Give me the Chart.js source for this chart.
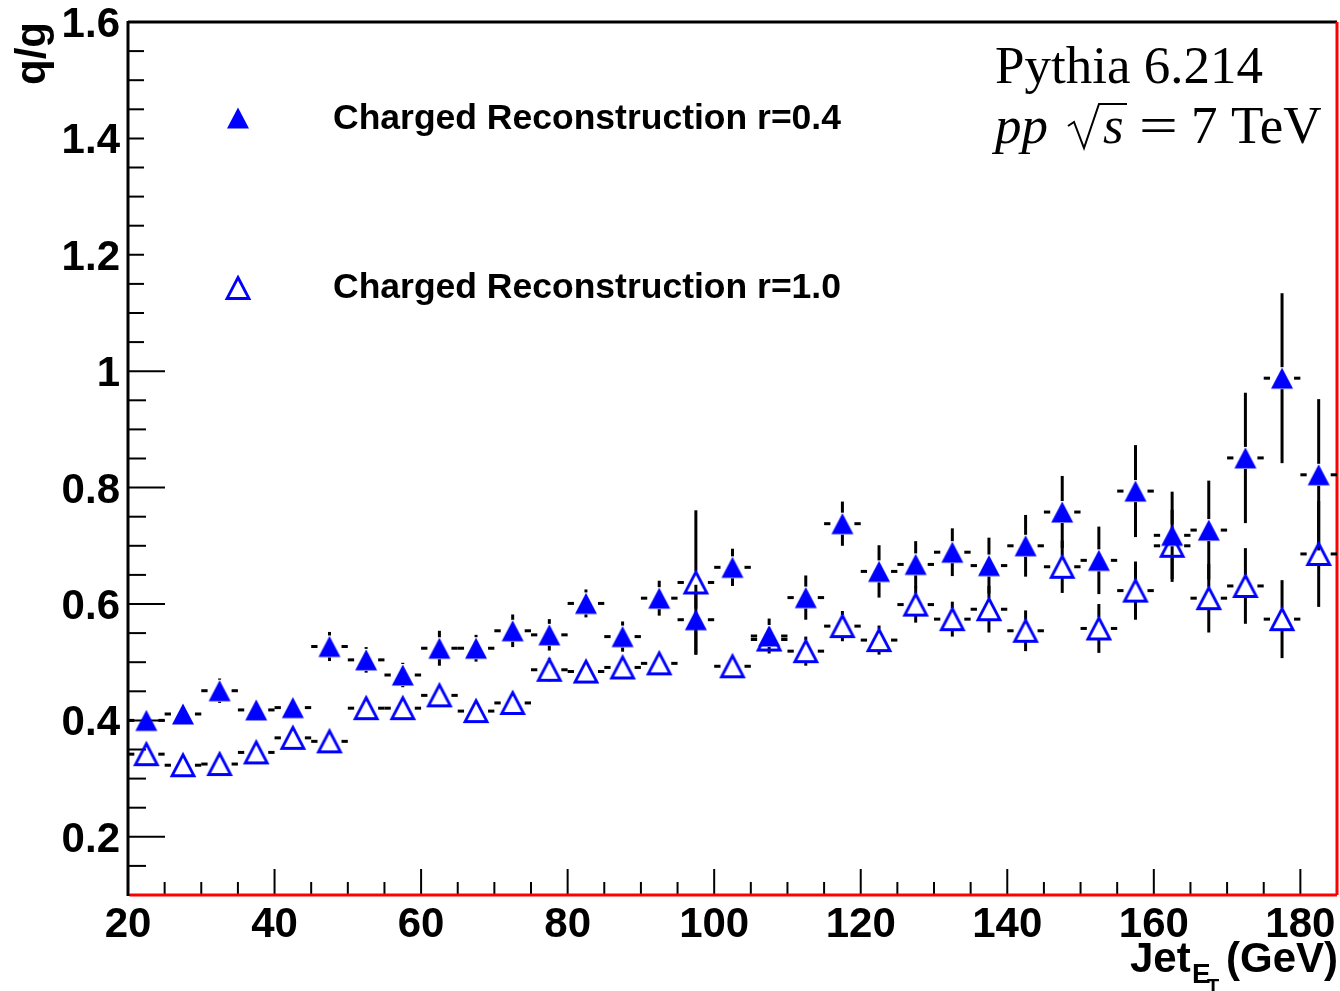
<!DOCTYPE html>
<html>
<head>
<meta charset="utf-8">
<title>q/g ratio vs jet ET</title>
<script src="https://cdn.jsdelivr.net/npm/chart.js@4.4.1/dist/chart.umd.min.js"></script>
<style>
  html, body { margin: 0; padding: 0; background: #fff; }
  canvas { display: block; }
</style>
</head>
<body>
<canvas id="qg-chart" width="1340" height="991"></canvas>
<script>
// bin centres of the 5 GeV jet ET bins
const binCentres = [22.5, 27.5, 32.5, 37.5, 42.5, 47.5, 52.5, 57.5, 62.5, 67.5, 72.5,
  77.5, 82.5, 87.5, 92.5, 97.5, 102.5, 107.5, 112.5, 117.5, 122.5, 127.5, 132.5,
  137.5, 142.5, 147.5, 152.5, 157.5, 162.5, 167.5, 172.5, 177.5, 182.5];
const binHalfWidth = 2.5;

// charged reconstruction r=0.4 (filled triangles)
const ratioR04 = [0.400, 0.411, 0.451, 0.418, 0.422, 0.527, 0.504, 0.478, 0.524, 0.524, 0.554,
  0.547, 0.601, 0.544, 0.610, 0.573, 0.663, 0.545, 0.611, 0.738, 0.656, 0.668, 0.689,
  0.666, 0.700, 0.758, 0.675, 0.794, 0.718, 0.727, 0.851, 0.988, 0.822];
const errR04 = [0.010, 0.010, 0.021, 0.012, 0.012, 0.025, 0.022, 0.021, 0.030, 0.023, 0.028,
  0.027, 0.024, 0.026, 0.030, 0.060, 0.032, 0.030, 0.038, 0.038, 0.045, 0.040, 0.041,
  0.048, 0.053, 0.062, 0.058, 0.079, 0.075, 0.085, 0.112, 0.146, 0.130];

// charged reconstruction r=1.0 (open triangles)
const ratioR10 = [0.342, 0.323, 0.325, 0.345, 0.370, 0.364, 0.421, 0.421, 0.443, 0.416, 0.430,
  0.487, 0.484, 0.491, 0.498, 0.637, 0.493, 0.539, 0.519, 0.562, 0.538, 0.599, 0.574,
  0.591, 0.554, 0.664, 0.558, 0.623, 0.700, 0.610, 0.631, 0.574, 0.686];
const errR10 = [0.008, 0.008, 0.008, 0.009, 0.010, 0.010, 0.011, 0.012, 0.013, 0.013, 0.014,
  0.020, 0.017, 0.018, 0.016, 0.124, 0.015, 0.020, 0.025, 0.026, 0.025, 0.031, 0.030,
  0.040, 0.035, 0.045, 0.042, 0.050, 0.062, 0.059, 0.065, 0.067, 0.091];

const xTickLabels = [20, 40, 60, 80, 100, 120, 140, 160, 180];
const yTickLabels = ['0.2', '0.4', '0.6', '0.8', '1', '1.2', '1.4', '1.6'];
const legendLabels = ['Charged Reconstruction r=0.4', 'Charged Reconstruction r=1.0'];

const BLUE = '#0000ff';
const SANS = '"Liberation Sans", Arial, Helvetica, sans-serif';
const SERIF = '"Liberation Serif", "Times New Roman", serif';

/**
 * ROOT-like triangle marker, centred on its bounding box.
 */
function makeTriangle(filled) {
  const size = 30;
  const c = document.createElement('canvas');
  c.width = size;
  c.height = size;
  const g = c.getContext('2d');
  const m = size / 2;
  g.beginPath();
  g.moveTo(m, m - 10.5);
  g.lineTo(m + 11, m + 10.5);
  g.lineTo(m - 11, m + 10.5);
  g.closePath();
  if (filled) {
    g.fillStyle = BLUE;
    g.fill();
  } else {
    g.lineWidth = 2.8;
    g.strokeStyle = BLUE;
    g.stroke();
  }
  return c;
}

const fullTriangle = makeTriangle(true);
const openTriangle = makeTriangle(false);

function line(ctx, x1, y1, x2, y2) {
  ctx.beginPath();
  ctx.moveTo(x1, y1);
  ctx.lineTo(x2, y2);
  ctx.stroke();
}

function drawErrors(ctx, xs, ys, values, errors) {
  const gapV = 11;
  const gapH = 12;
  ctx.strokeStyle = '#000';
  ctx.lineWidth = 3;
  ctx.lineCap = 'butt';
  binCentres.forEach((x, i) => {
    const px = xs.getPixelForValue(x);
    const py = ys.getPixelForValue(values[i]);
    const top = ys.getPixelForValue(values[i] + errors[i]);
    const bottom = ys.getPixelForValue(values[i] - errors[i]);
    const left = xs.getPixelForValue(x - binHalfWidth);
    const right = xs.getPixelForValue(x + binHalfWidth);
    if (py - top > gapV) line(ctx, px, py - gapV, px, top);
    if (bottom - py > gapV) line(ctx, px, py + gapV, px, bottom);
    if (px - left > gapH) line(ctx, left, py, px - gapH, py);
    if (right - px > gapH) line(ctx, px + gapH, py, right, py);
  });
}

const rootFrame = {
  id: 'rootFrame',
  beforeDatasetsDraw(chart) {
    const { ctx, chartArea: a } = chart;
    const xs = chart.scales.x;
    const ys = chart.scales.y;
    ctx.save();

    // x ticks every 5 GeV, long ones on labels
    ctx.strokeStyle = '#000';
    ctx.lineWidth = 2;
    for (let v = 20; v <= 185; v += 5) {
      const px = xs.getPixelForValue(v);
      const len = v % 20 === 0 ? 26 : 13;
      line(ctx, px, a.bottom, px, a.bottom - len);
    }
    // y ticks every 0.05
    for (let k = 2; k <= 32; k++) {
      const v = k * 0.05;
      const py = ys.getPixelForValue(v);
      const len = k % 4 === 0 ? 37 : 18;
      line(ctx, a.left, py, a.left + len, py);
    }

    // legend box (white) hides part of the ticks
    ctx.fillStyle = '#fff';
    ctx.fillRect(a.left + 16, 40, 730, 305);

    // frame
    ctx.lineWidth = 3;
    ctx.strokeStyle = '#000';
    line(ctx, a.left, a.top, a.right, a.top);
    line(ctx, a.left, a.top - 1, a.left, a.bottom + 1);
    ctx.strokeStyle = '#ff0000';
    line(ctx, a.right, a.top, a.right, a.bottom);
    line(ctx, a.left + 1.5, a.bottom, a.right, a.bottom);

    drawErrors(ctx, xs, ys, ratioR10, errR10);
    drawErrors(ctx, xs, ys, ratioR04, errR04);
    ctx.restore();
  },
  afterDatasetsDraw(chart) {
    const { ctx, chartArea: a } = chart;
    const xs = chart.scales.x;
    const ys = chart.scales.y;
    ctx.save();
    ctx.fillStyle = '#000';

    // tick labels
    ctx.font = `bold 42px ${SANS}`;
    ctx.textAlign = 'right';
    ctx.textBaseline = 'alphabetic';
    yTickLabels.forEach((t) => {
      ctx.fillText(t, a.left - 8, ys.getPixelForValue(Number(t)) + 15);
    });
    ctx.textAlign = 'center';
    xTickLabels.forEach((t) => {
      ctx.fillText(String(t), xs.getPixelForValue(t), 937);
    });

    // y title
    ctx.save();
    ctx.translate(45, a.top);
    ctx.rotate(-Math.PI / 2);
    ctx.textAlign = 'right';
    ctx.fillText('q/g', 0, 0);
    ctx.restore();

    // x title: Jet_{E_T} (GeV)
    ctx.textAlign = 'right';
    ctx.fillText('(GeV)', 1338, 972);
    ctx.textAlign = 'left';
    ctx.fillText('Jet', 1130, 972);
    ctx.font = `bold 28px ${SANS}`;
    ctx.fillText('E', 1192, 983);
    ctx.font = `bold 20px ${SANS}`;
    ctx.fillText('T', 1207, 993);

    // legend
    ctx.drawImage(fullTriangle, 238 - 15, 118 - 15);
    ctx.drawImage(openTriangle, 238 - 15, 288 - 15);
    ctx.font = `bold 35.5px ${SANS}`;
    ctx.textBaseline = 'middle';
    ctx.fillText(legendLabels[0], 333, 119);
    ctx.fillText(legendLabels[1], 333, 288);

    // Pythia label
    ctx.textBaseline = 'alphabetic';
    ctx.font = `53px ${SERIF}`;
    ctx.fillText('Pythia 6.214', 995, 83);
    ctx.font = `italic 53px ${SERIF}`;
    ctx.fillText('pp', 995, 143);
    ctx.fillText('s', 1103, 143);
    ctx.font = `53px ${SERIF}`;
    ctx.fillText('7', 1191, 143);
    ctx.fillText('TeV', 1231, 143);
    ctx.save();
    ctx.translate(1139, 143);
    ctx.scale(1.3, 1);
    ctx.fillText('=', 0, 0);
    ctx.restore();
    // radical sign
    ctx.strokeStyle = '#000';
    ctx.lineWidth = 2;
    ctx.lineJoin = 'miter';
    ctx.beginPath();
    ctx.moveTo(1068, 126);
    ctx.lineTo(1074, 122);
    ctx.lineTo(1084, 148);
    ctx.lineTo(1099, 104);
    ctx.lineTo(1127, 104);
    ctx.stroke();
    ctx.restore();
  },
};

const ctx = document.getElementById('qg-chart').getContext('2d');
new Chart(ctx, {
  type: 'scatter',
  data: {
    datasets: [
      {
        label: legendLabels[0],
        data: binCentres.map((x, i) => ({ x, y: ratioR04[i] })),
        pointStyle: fullTriangle,
        pointRadius: 11,
        showLine: false,
      },
      {
        label: legendLabels[1],
        data: binCentres.map((x, i) => ({ x, y: ratioR10[i] })),
        pointStyle: openTriangle,
        pointRadius: 11,
        showLine: false,
      },
    ],
  },
  options: {
    responsive: false,
    animation: false,
    events: [],
    layout: { autoPadding: false, padding: { left: 128, top: 22, right: 3, bottom: 96 } },
    scales: {
      x: { type: 'linear', min: 20, max: 185, display: false },
      y: { type: 'linear', min: 0.1, max: 1.6, display: false },
    },
    plugins: { legend: { display: false }, tooltip: { enabled: false } },
  },
  plugins: [rootFrame],
});
</script>
</body>
</html>
